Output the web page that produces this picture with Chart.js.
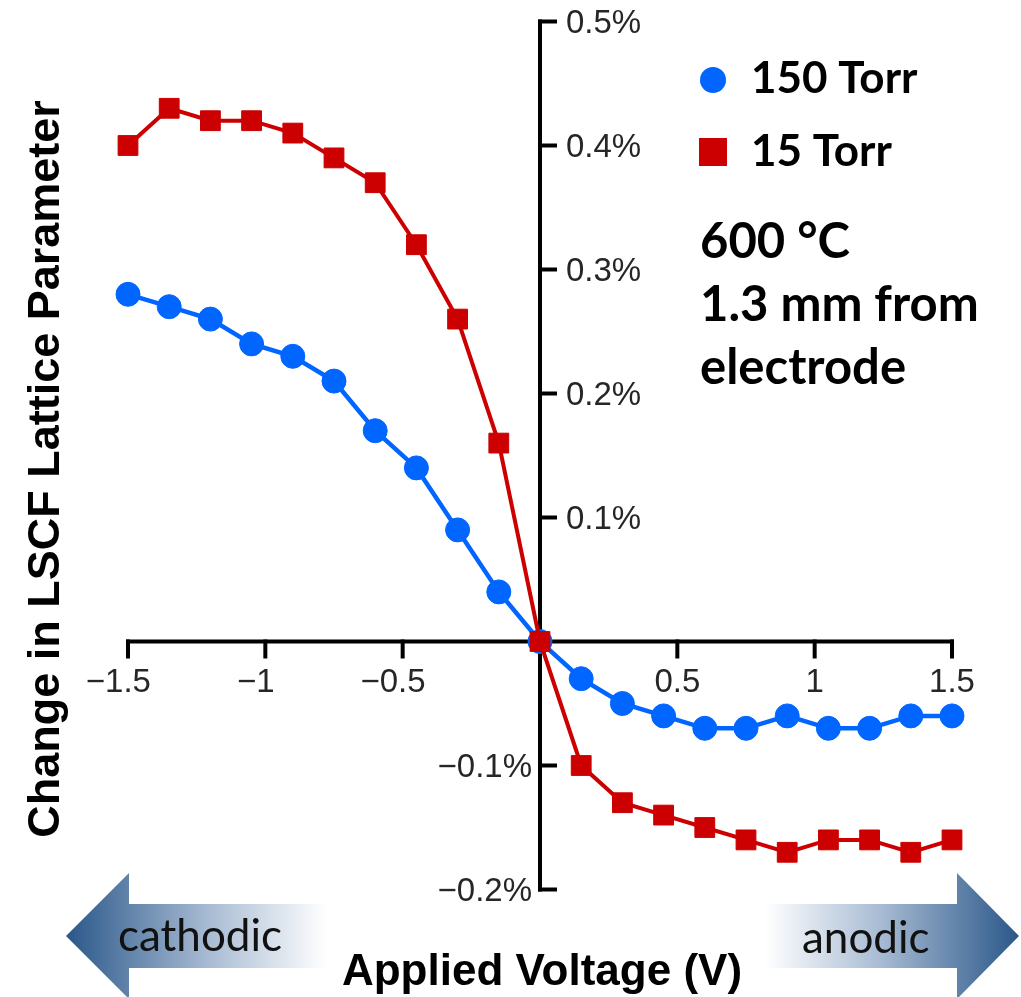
<!DOCTYPE html>
<html>
<head>
<meta charset="utf-8">
<title>LSCF lattice parameter vs applied voltage</title>
<script src="https://cdn.jsdelivr.net/npm/chart.js@4.4.1/dist/chart.umd.min.js"></script>
<style>
  html, body { margin: 0; padding: 0; background: #ffffff; }
  #wrap { width: 1021px; height: 997px; }
  canvas { display: block; }
</style>
</head>
<body>
<div id="wrap"><canvas id="chart" width="1021" height="997"></canvas></div>
<script>
// Applied voltage (V) at each measurement
const voltages = [-1.5, -1.35, -1.2, -1.05, -0.9, -0.75, -0.6, -0.45, -0.3, -0.15, 0,
                  0.15, 0.3, 0.45, 0.6, 0.75, 0.9, 1.05, 1.2, 1.35, 1.5];
// Change in lattice parameter (%) at 150 Torr
const change150Torr = [0.28, 0.27, 0.26, 0.24, 0.23, 0.21, 0.17, 0.14, 0.09, 0.04, 0,
                       -0.03, -0.05, -0.06, -0.07, -0.07, -0.06, -0.07, -0.07, -0.06, -0.06];
// Change in lattice parameter (%) at 15 Torr
const change15Torr = [0.40, 0.43, 0.42, 0.42, 0.41, 0.39, 0.37, 0.32, 0.26, 0.16, 0,
                      -0.10, -0.13, -0.14, -0.15, -0.16, -0.17, -0.16, -0.16, -0.17, -0.16];
const seriesNames = ['150 Torr', '15 Torr'];
const xTickValues = [-1.5, -1, -0.5, 0, 0.5, 1, 1.5];
const yTickValues = [-0.2, -0.1, 0, 0.1, 0.2, 0.3, 0.4, 0.5];
const conditionLines = ['600 °C', '1.3 mm from', 'electrode'];
const xTitle = 'Applied Voltage (V)';
const yTitle = 'Change in LSCF Lattice Parameter';
const directionLabels = ['cathodic', 'anodic'];

const BLUE = '#0066ff';
const RED = '#cc0000';
const SANS = "'Liberation Sans', Arial, Helvetica, sans-serif";
const HUMANIST = "Lato, 'Open Sans', sans-serif";
const MINUS = '\u2212';

function fmtX(v) { return String(Math.abs(v)); }
function fmtY(v) { return Math.abs(v).toFixed(1) + '%'; }

function line(ctx, x1, y1, x2, y2) {
  ctx.beginPath(); ctx.moveTo(x1, y1); ctx.lineTo(x2, y2); ctx.stroke();
}

// Gradient block arrows under the x axis showing polarisation direction
function drawArrow(ctx, shaftStart, headBase, tip, cy, shaftHalf, headHalf, dark) {
  ctx.save();
  const g = ctx.createLinearGradient(shaftStart, 0, tip, 0);
  g.addColorStop(0, 'rgba(255,255,255,1)');
  g.addColorStop(0.45, '#a9bcd4');
  g.addColorStop(1, dark);
  ctx.fillStyle = g;
  ctx.beginPath();
  ctx.moveTo(shaftStart, cy - shaftHalf);
  ctx.lineTo(headBase, cy - shaftHalf);
  ctx.lineTo(headBase, cy - headHalf);
  ctx.lineTo(tip, cy);
  ctx.lineTo(headBase, cy + headHalf);
  ctx.lineTo(headBase, cy + shaftHalf);
  ctx.lineTo(shaftStart, cy + shaftHalf);
  ctx.closePath();
  ctx.fill();
  ctx.restore();
}

const crossedAxes = {
  id: 'crossedAxes',
  beforeDatasetsDraw(chart) {
    const { ctx } = chart;
    const xs = chart.scales.x, ys = chart.scales.y;
    const x0 = xs.getPixelForValue(0);
    const y0 = ys.getPixelForValue(0);
    const yTop = ys.getPixelForValue(ys.max), yBot = ys.getPixelForValue(ys.min);
    const xL = xs.getPixelForValue(xs.min), xR = xs.getPixelForValue(xs.max);

    // direction arrows
    drawArrow(ctx, 327, 129, 66, 936, 32, 63, '#2a5789');
    drawArrow(ctx, 765, 957, 1019, 936, 32, 63, '#2a5789');

    ctx.save();
    ctx.strokeStyle = '#000';
    ctx.lineWidth = 4;
    ctx.lineCap = 'butt';
    line(ctx, x0, yTop - 2, x0, yBot + 2);
    line(ctx, xL - 2, y0, xR + 2, y0);

    ctx.fillStyle = '#262626';
    ctx.font = '33px ' + SANS;
    ctx.textBaseline = 'alphabetic';
    ys.ticks.forEach(t => {
      if (t.value === 0) return;
      const py = ys.getPixelForValue(t.value);
      line(ctx, x0 - 2, py, x0 + 17, py);
      if (t.value > 0) {
        ctx.textAlign = 'left';
        ctx.fillText(fmtY(t.value), x0 + 26, py + 11.5);
      } else {
        ctx.textAlign = 'right';
        ctx.fillText(MINUS + fmtY(t.value), x0 - 8, py + 11.5);
      }
    });
    xs.ticks.forEach(t => {
      if (t.value === 0) return;
      const px = xs.getPixelForValue(t.value);
      line(ctx, px, y0 - 2, px, y0 + 17);
      const s = fmtX(t.value);
      const w = ctx.measureText(s).width;
      ctx.textAlign = 'center';
      ctx.fillText(s, px, y0 + 50);
      if (t.value < 0) {
        ctx.textAlign = 'right';
        ctx.fillText(MINUS, px - w / 2, y0 + 50);
      }
    });
    ctx.restore();
  },
  afterDraw(chart) {
    const { ctx } = chart;
    const ds = chart.data.datasets;
    ctx.save();
    // legend
    ctx.fillStyle = ds[0].backgroundColor;
    ctx.beginPath(); ctx.arc(713, 80, 13, 0, Math.PI * 2); ctx.fill();
    ctx.fillStyle = ds[1].backgroundColor;
    ctx.fillRect(699, 138, 28, 28);
    ctx.fillStyle = '#000';
    ctx.font = 'bold 44px ' + HUMANIST;
    ctx.textAlign = 'left';
    ctx.textBaseline = 'alphabetic';
    ctx.fillText(ds[0].label, 751, 93);
    ctx.fillText(ds[1].label, 751, 166);

    // measurement conditions
    ctx.font = 'bold 49px ' + HUMANIST;
    conditionLines.forEach((s, i) => ctx.fillText(s, 700, 258 + i * 63));

    // axis titles
    ctx.font = 'bold 44px ' + SANS;
    ctx.textAlign = 'center';
    ctx.fillText(xTitle, 542, 985);
    ctx.save();
    ctx.translate(59, 469);
    ctx.rotate(-Math.PI / 2);
    ctx.font = 'bold 45px ' + SANS;
    ctx.fillText(yTitle, 0, 0);
    ctx.restore();

    // arrow captions
    ctx.font = '44px ' + HUMANIST;
    ctx.fillStyle = '#111';
    ctx.textAlign = 'left';
    ctx.fillText(directionLabels[0], 118, 951);
    ctx.fillText(directionLabels[1], 802, 953);
    ctx.restore();
  }
};

const toPoints = ys => voltages.map((v, i) => ({ x: v, y: ys[i] }));

new Chart(document.getElementById('chart'), {
  type: 'scatter',
  data: {
    datasets: [
      {
        label: seriesNames[0],
        data: toPoints(change150Torr),
        showLine: true,
        borderColor: BLUE,
        backgroundColor: BLUE,
        borderWidth: 4.5,
        pointStyle: 'circle',
        pointRadius: 12,
        pointHoverRadius: 12,
        pointBorderWidth: 1,
        pointBorderColor: BLUE,
        pointBackgroundColor: BLUE,
        order: 2,
        clip: false
      },
      {
        label: seriesNames[1],
        data: toPoints(change15Torr),
        showLine: true,
        borderColor: RED,
        backgroundColor: RED,
        borderWidth: 4,
        pointStyle: 'rect',
        pointRadius: 14,
        pointHoverRadius: 14,
        pointBorderWidth: 1,
        pointBorderColor: RED,
        pointBackgroundColor: RED,
        order: 1,
        clip: false
      }
    ]
  },
  options: {
    responsive: false,
    animation: false,
    devicePixelRatio: 1,
    events: [],
    layout: { padding: { left: 128, right: 69, top: 21.5, bottom: 107.5 } },
    plugins: { legend: { display: false }, tooltip: { enabled: false }, title: { display: false } },
    scales: {
      x: {
        type: 'linear', min: -1.5, max: 1.5, display: false,
        afterBuildTicks: s => { s.ticks = xTickValues.map(v => ({ value: v })); }
      },
      y: {
        type: 'linear', min: -0.2, max: 0.5, display: false,
        afterBuildTicks: s => { s.ticks = yTickValues.map(v => ({ value: v })); }
      }
    }
  },
  plugins: [crossedAxes]
});
</script>
</body>
</html>
